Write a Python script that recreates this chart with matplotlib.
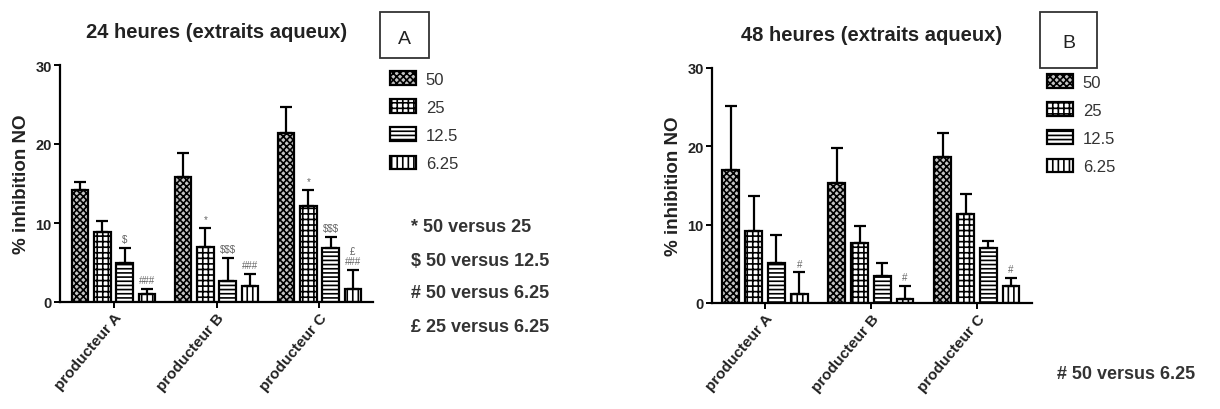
import matplotlib.pyplot as plt
import matplotlib.patches as mpatches
import numpy as np

plt.rcParams['font.family'] = ['Liberation Sans', 'DejaVu Sans']
plt.rcParams['hatch.linewidth'] = 1.2

# Données
producteurs = ["producteur A", "producteur B", "producteur C"]
doses = ["50", "25", "12.5", "6.25"]

# 24 heures : moyenne et erreur (une ligne par dose)
moy_24 = [[14.2, 15.8, 21.4],
          [8.9, 7.0, 12.2],
          [5.0, 2.7, 6.8],
          [1.0, 2.0, 1.6]]
err_24 = [[1.0, 3.1, 3.3],
          [1.3, 2.4, 2.0],
          [1.8, 2.9, 1.4],
          [0.6, 1.6, 2.4]]
sig_24 = [["", "", ""],
          ["", "*", "*"],
          ["$", "$$$", "$$$"],
          ["###", "###", "£\n###"]]

# 48 heures
moy_48 = [[17.0, 15.3, 18.7],
          [9.2, 7.6, 11.4],
          [5.1, 3.4, 7.0],
          [1.1, 0.55, 2.2]]
err_48 = [[8.2, 4.5, 3.0],
          [4.5, 2.2, 2.5],
          [3.6, 1.7, 0.9],
          [2.8, 1.65, 1.0]]
sig_48 = [["", "", ""],
          ["", "", ""],
          ["", "", ""],
          ["#", "#", "#"]]

stats_24 = ["* 50 versus 25", "$ 50 versus 12.5", "# 50 versus 6.25", "£ 25 versus 6.25"]
stats_48 = ["# 50 versus 6.25"]

hachures = ["xxxxx", "+++", "----", "|||"]
couleurs = ["#c4c4c4", "white", "white", "white"]

W, H = 1220, 410
fig = plt.figure(figsize=(W / 100, H / 100), dpi=100)


def px_axes(x0, y_top, x1, y_bot):
    return fig.add_axes([x0 / W, 1 - y_bot / H, (x1 - x0) / W, (y_bot - y_top) / H])


def panneau(ax, moy, err, sig, titre, xlim):
    x = np.arange(len(producteurs))
    pas, larg = 0.215, 0.158
    barres = []
    for i in range(len(doses)):
        pos = x + (i - 1.5) * pas
        b = ax.bar(pos, moy[i], width=larg, facecolor=couleurs[i], edgecolor="black",
                   linewidth=1.6, hatch=hachures[i], label=doses[i], zorder=2)
        ax.errorbar(pos, moy[i], yerr=[np.zeros(3), err[i]], fmt="none", ecolor="black",
                    elinewidth=1.6, capsize=4.5, capthick=1.6, zorder=3)
        for j in range(3):
            if sig[i][j]:
                ax.text(pos[j], moy[i][j] + err[i][j] + 0.5, sig[i][j], ha="center",
                        va="bottom", fontsize=7, color="#666666", linespacing=1.1)
        barres.append(b)
    ax.set_xlim(*xlim)
    ax.set_ylim(0, 30)
    ax.set_yticks([0, 10, 20, 30])
    ax.set_xticks(x)
    ax.set_xticklabels(producteurs, rotation=50, ha="right", va="top",
                       rotation_mode="anchor", fontsize=11, fontweight="bold", color="#222222")
    for lab in ax.get_yticklabels():
        lab.set_fontweight("bold")
        lab.set_fontsize(10.5)
        lab.set_color("#222222")
    ax.spines["top"].set_visible(False)
    ax.spines["right"].set_visible(False)
    ax.spines["left"].set_linewidth(1.6)
    ax.spines["bottom"].set_linewidth(1.6)
    ax.tick_params(axis="both", width=1.4, length=4, pad=2)
    ax.set_ylabel("% inhibition NO", fontsize=13.5, fontweight="bold", color="#222222", labelpad=4)
    ax.set_title(titre, fontsize=14.5, fontweight="bold", color="#222222", pad=20)
    return barres


axA = px_axes(60, 66, 373, 303)
barresA = panneau(axA, moy_24, err_24, sig_24, "24 heures (extraits aqueux)", (-0.52, 2.52))
axB = px_axes(712, 69, 1032, 304)
barresB = panneau(axB, moy_48, err_48, sig_48, "48 heures (extraits aqueux)", (-0.5, 2.52))

# Légendes
for barres, (lx, ly) in [(barresA, (390, 72)), (barresB, (1047, 75))]:
    fig.legend(handles=barres, loc="upper left", bbox_to_anchor=(lx / W, 1 - ly / H),
               frameon=False, fontsize=12, handlelength=1.55, handleheight=0.9,
               labelspacing=0.75, handletextpad=0.6, borderpad=0, borderaxespad=0,
               labelcolor="#333333")

# Textes de significativité
for k, s in enumerate(stats_24):
    fig.text(411 / W, 1 - (228 + 33 * k) / H, s, fontsize=13, fontweight="bold",
             color="#333333", va="center")
for k, s in enumerate(stats_48):
    fig.text(1057 / W, 1 - 375 / H, s, fontsize=13, fontweight="bold",
             color="#333333", va="center")

# Cadres A et B
for (bx0, by0, bx1, by1, lettre) in [(380, 13, 429, 59, "A"), (1040, 13, 1097, 69, "B")]:
    fig.patches.append(mpatches.Rectangle((bx0 / W, 1 - by1 / H), (bx1 - bx0) / W, (by1 - by0) / H,
                                          transform=fig.transFigure, fill=False,
                                          edgecolor="#333333", linewidth=1.3))
    fig.text((bx0 + bx1) / 2 / W, 1 - ((by0 + by1) / 2 + 3) / H, lettre, fontsize=14,
             ha="center", va="center", color="#222222")

fig.savefig("out.png", dpi=100)
